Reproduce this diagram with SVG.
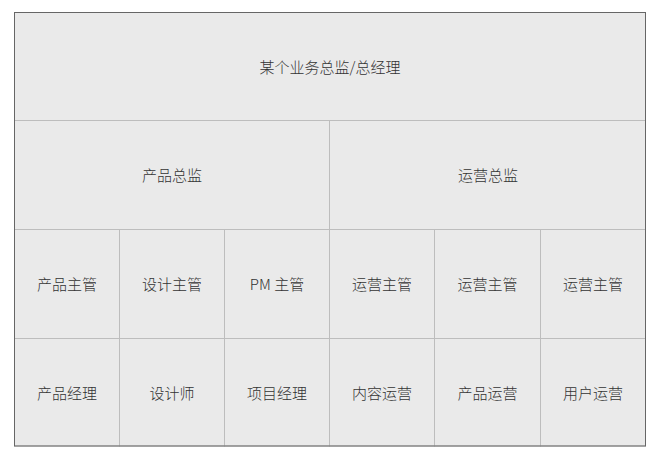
<svg xmlns="http://www.w3.org/2000/svg" width="657" height="456" viewBox="0 0 657 456">
<style>
.cell{fill:#eaeaea;stroke:#bdbdbd;stroke-width:1}
.t{font-family:"Noto Sans CJK SC","Liberation Sans",sans-serif;font-size:15px;font-weight:300;fill:#333;text-anchor:middle;dominant-baseline:central}
</style>
<rect x="0" y="0" width="657" height="456" fill="#ffffff"/>
<g id="n-gm"><rect class="cell" x="14.5" y="12.5" width="631" height="108"/><text class="t" x="330" y="66.5">某个业务总监/总经理</text></g>
<g id="n-pd"><rect class="cell" x="14.5" y="120.5" width="315" height="109"/><text class="t" x="172" y="174">产品总监</text></g>
<g id="n-od"><rect class="cell" x="329.5" y="120.5" width="316" height="109"/><text class="t" x="488" y="174">运营总监</text></g>
<g id="n-r3c1"><rect class="cell" x="14.5" y="229.5" width="105" height="109"/><text class="t" x="67" y="283">产品主管</text></g>
<g id="n-r3c2"><rect class="cell" x="119.5" y="229.5" width="105" height="109"/><text class="t" x="172" y="283">设计主管</text></g>
<g id="n-r3c3"><rect class="cell" x="224.5" y="229.5" width="105" height="109"/><text class="t" x="277" y="283">PM 主管</text></g>
<g id="n-r3c4"><rect class="cell" x="329.5" y="229.5" width="105" height="109"/><text class="t" x="382" y="283">运营主管</text></g>
<g id="n-r3c5"><rect class="cell" x="434.5" y="229.5" width="106" height="109"/><text class="t" x="487.5" y="283">运营主管</text></g>
<g id="n-r3c6"><rect class="cell" x="540.5" y="229.5" width="105" height="109"/><text class="t" x="593" y="283">运营主管</text></g>
<g id="n-r4c1"><rect class="cell" x="14.5" y="338.5" width="105" height="107.5"/><text class="t" x="67" y="392">产品经理</text></g>
<g id="n-r4c2"><rect class="cell" x="119.5" y="338.5" width="105" height="107.5"/><text class="t" x="172" y="392">设计师</text></g>
<g id="n-r4c3"><rect class="cell" x="224.5" y="338.5" width="105" height="107.5"/><text class="t" x="277" y="392">项目经理</text></g>
<g id="n-r4c4"><rect class="cell" x="329.5" y="338.5" width="105" height="107.5"/><text class="t" x="382" y="392">内容运营</text></g>
<g id="n-r4c5"><rect class="cell" x="434.5" y="338.5" width="106" height="107.5"/><text class="t" x="487.5" y="392">产品运营</text></g>
<g id="n-r4c6"><rect class="cell" x="540.5" y="338.5" width="105" height="107.5"/><text class="t" x="593" y="392">用户运营</text></g>
<g id="connectors"></g>
<rect x="14.5" y="12.5" width="631" height="433.5" fill="none" stroke="#666" stroke-width="1"/>
</svg>
